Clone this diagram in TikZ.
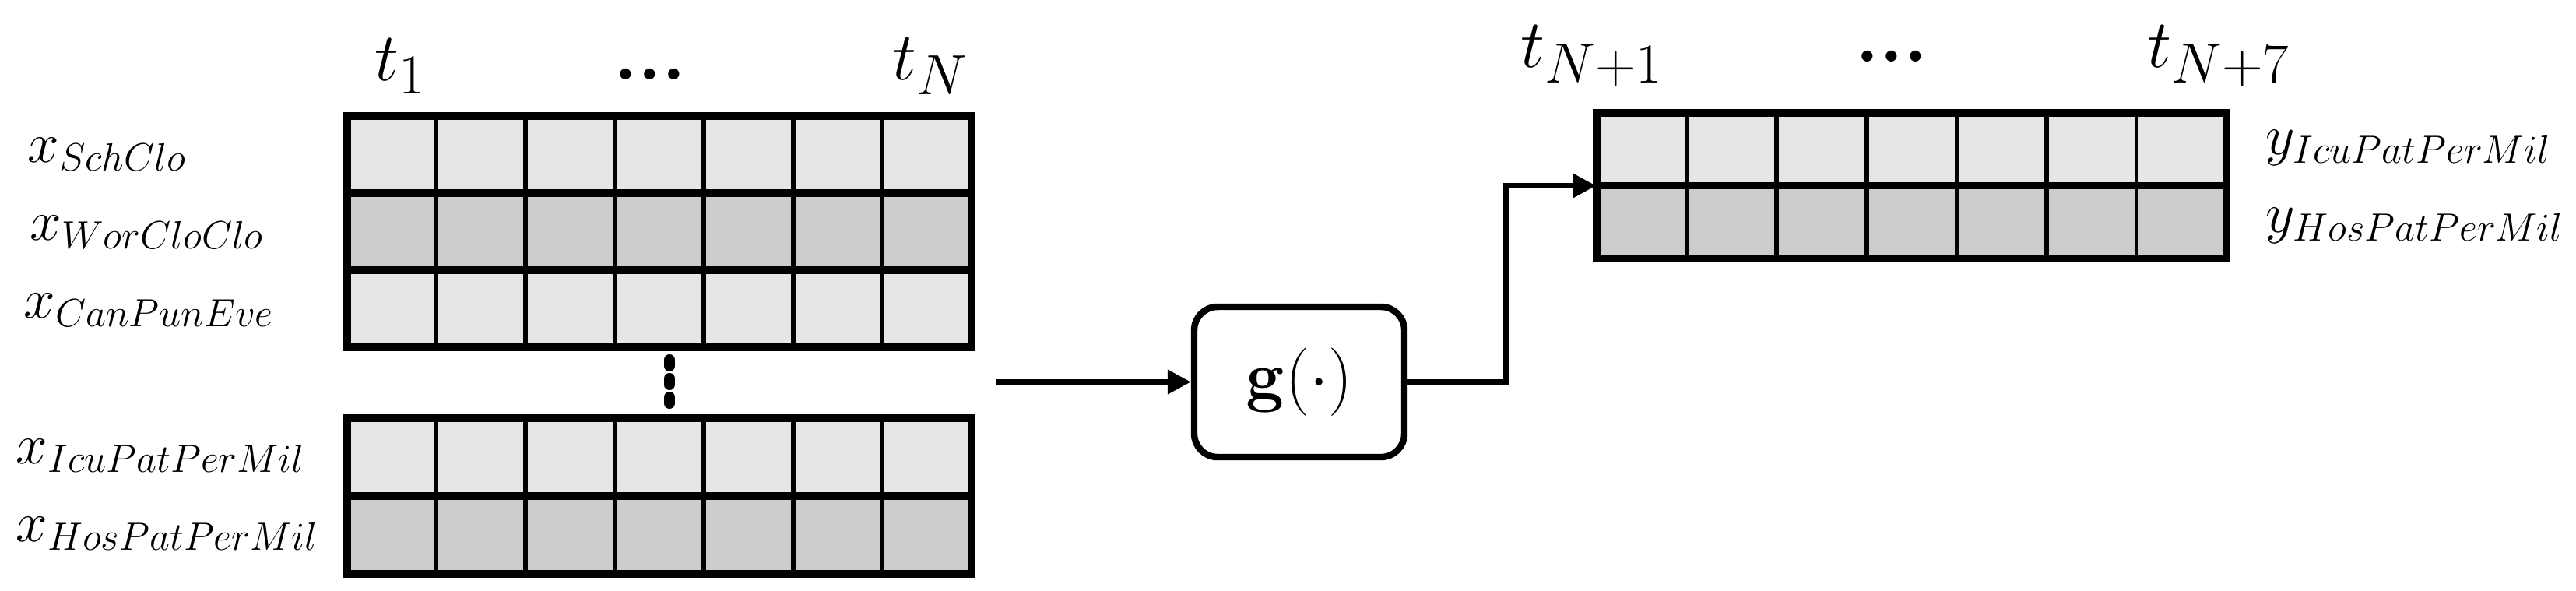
\documentclass[tikz,border=0pt]{standalone}
\usetikzlibrary{arrows.meta}
\tikzset{
  lbl/.style={inner sep=0pt, font=\fontsize{22}{26}\selectfont},
  hdr/.style={inner sep=0pt, font=\fontsize{28}{32}\selectfont},
  conn/.style={line width=2pt, -{Triangle[length=0.3cm,width=0.3cm]}},
  gbox/.style={draw, line width=2.4pt, rounded corners=0.3cm, minimum width=2.7cm, minimum height=1.93cm, inner sep=0pt, font=\fontsize{30}{34}\selectfont},
  vdot/.style={line width=4pt, line cap=round},
}
\definecolor{lightc}{HTML}{E6E6E6}
\definecolor{darkc}{HTML}{CCCCCC}
\newcommand{\mygrid}[5]{%
  \foreach \c [count=\r from 0] in {#5} {
    \fill[\c] (#1,{#2-\r*#4}) rectangle ({#1+#3},{#2-(\r+1)*#4});
    \foreach \k in {1,...,6}
      \draw[line width=1.6pt] ({#1+\k*#3/7},{#2-\r*#4}) -- ({#1+\k*#3/7},{#2-(\r+1)*#4});
    \draw[line width=2.6pt] (#1,{#2-\r*#4}) rectangle ({#1+#3},{#2-(\r+1)*#4});
  }
}
\begin{document}
\begin{tikzpicture}
\useasboundingbox (0,0) rectangle (33.09,-7.58);
\mygrid{4.46}{-1.49}{8.02}{0.99}{lightc,darkc,lightc}
\mygrid{4.46}{-5.37}{8.02}{1.0}{lightc,darkc}
\mygrid{20.51}{-1.45}{8.09}{0.935}{lightc,darkc}
\node[minimum width=8.09cm, minimum height=1.87cm, inner sep=0pt] (out) at (24.555,-2.385) {};
\node[hdr] (t1) at (5.15,-0.85) {$t_1$};
\node[hdr] (tdots) at (8.35,-0.95) {\textbf{...}};
\node[hdr] (tN) at (11.95,-0.85) {$t_N$};
\node[hdr] (tN1) at (20.45,-0.72) {$t_{N+1}$};
\node[hdr] (tdots2) at (24.3,-0.72) {\textbf{...}};
\node[hdr] (tN7) at (28.5,-0.72) {$t_{N+7}$};
\node[lbl, anchor=west] (l1) at (0.35,-1.98) {$x_{SchClo}$};
\node[lbl, anchor=west] (l2) at (0.38,-2.98) {$x_{WorCloClo}$};
\node[lbl, anchor=west] (l3) at (0.3,-3.98) {$x_{CanPunEve}$};
\node[lbl, anchor=west] (l4) at (0.2,-5.85) {$x_{IcuPatPerMil}$};
\node[lbl, anchor=west] (l5) at (0.2,-6.85) {$x_{HosPatPerMil}$};
\node[lbl, anchor=west] (r1) at (29.1,-1.9) {$y_{IcuPatPerMil}$};
\node[lbl, anchor=west] (r2) at (29.1,-2.9) {$y_{HosPatPerMil}$};
\foreach \yy in {-4.66,-4.9,-5.14}
  \draw[vdot] (8.6,\yy+0.04) -- (8.6,\yy-0.04);
\node[gbox] (g) at (16.69,-4.905) {$\mathbf{g}(\cdot)$};
\coordinate (src) at (12.79,-4.905);
\draw[conn] (src) -- (g.west);
\draw[conn] (g.east) -- ++(1.26,0) |- (out.west);
\end{tikzpicture}
\end{document}
